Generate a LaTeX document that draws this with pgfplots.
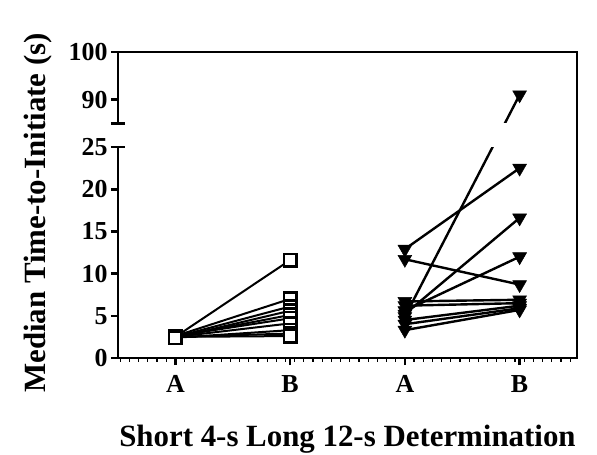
\documentclass[border=0pt]{standalone}
\usepackage{pgfplots}
\pgfplotsset{compat=1.18}
\usepackage{fontspec}
\setmainfont{Liberation Serif}

% broken y axis: 0-25 below, 85-100 above (smaller scale)
\pgfplotsset{
  brokeny/.style={
    y coord trafo/.code={\pgfmathparse{(##1<=25) ? ##1 : ((##1>=85) ? 27.81+(##1-85)*0.5633 : 26.4)}},
  },
}

\begin{document}
\begin{tikzpicture}
\path[use as bounding box] (-118bp,-97bp) rectangle (479bp,358bp);
\begin{axis}[
    brokeny,
    scale only axis,
    width=459bp, height=306bp,
    xmin=0.5, xmax=4.5,
    ymin=0, ymax=100,
    clip=false,
    axis lines*=left,
    axis line style={draw=none},
    tick align=outside,
    xtick={1,2,3,4},
    xticklabels={A,B,A,B},
    minor xtick={0.52,0.60,...,4.5},
    ytick={0,5,10,15,20,25,90,100},
    yticklabels={0,5,10,15,20,25,90,100},
    major tick length=7bp,
    minor tick length=3.5bp,
    every major tick/.append style={line width=2.6bp, black},
    every minor tick/.append style={line width=1.2bp, black},
    tick label style={font=\bfseries\fontsize{26}{26}\selectfont},
    xticklabel style={yshift=-7bp},
    xlabel={Short 4-s Long 12-s Determination},
    ylabel={Median Time-to-Initiate (s)},
    label style={font=\bfseries\fontsize{31}{31}\selectfont},
    xlabel style={yshift=-26bp},
    ylabel style={yshift=10bp, xshift=-8bp},
]
% Short 4-s: subject lines
\pgfplotsset{every axis plot/.append style={black, line width=2bp}}
\addplot[mark=none] coordinates {(1,2.5)(2,11.6)};
\addplot[mark=none] coordinates {(1,2.6)(2,7.0)};
\addplot[mark=none] coordinates {(1,2.5)(2,6.1)};
\addplot[mark=none] coordinates {(1,2.4)(2,5.6)};
\addplot[mark=none] coordinates {(1,2.5)(2,5.1)};
\addplot[mark=none] coordinates {(1,2.6)(2,4.7)};
\addplot[mark=none] coordinates {(1,2.5)(2,4.1)};
\addplot[mark=none] coordinates {(1,2.4)(2,3.3)};
\addplot[mark=none] coordinates {(1,2.5)(2,2.9)};
\addplot[mark=none] coordinates {(1,2.5)(2,2.6)};
% Long 12-s: subject lines
\addplot[mark=none, line width=2.4bp] coordinates {(3,12.9)(4,22.5)};
\addplot[mark=none, line width=2.4bp] coordinates {(3,11.7)(4,8.7)};
\addplot[mark=none, line width=2.4bp] coordinates {(3,4.9)(4,91)};
\addplot[mark=none, line width=2.4bp] coordinates {(3,5.2)(4,16.6)};
\addplot[mark=none, line width=2.4bp] coordinates {(3,5.6)(4,12.0)};
\addplot[mark=none, line width=2.4bp] coordinates {(3,6.7)(4,6.9)};
\addplot[mark=none, line width=2.4bp] coordinates {(3,6.2)(4,6.5)};
\addplot[mark=none, line width=2.4bp] coordinates {(3,4.5)(4,6.2)};
\addplot[mark=none, line width=2.4bp] coordinates {(3,4.0)(4,5.9)};
\addplot[mark=none, line width=2.4bp] coordinates {(3,3.3)(4,5.7)};
% gap of the broken axis
\fill[white] (axis cs:0.5,25) rectangle (axis cs:4.5,85);
% markers
\addplot[only marks, mark=square*, mark size=6.2bp,
  mark options={fill=white, draw=black, line width=2.6bp}]
  coordinates {(1,2.5)(1,2.6)(1,2.4)
    (2,11.6)(2,7.0)(2,6.1)(2,5.6)(2,5.1)(2,4.7)(2,4.1)(2,3.3)(2,2.9)(2,2.6)};
\addplot[only marks, mark=triangle*, mark size=8bp,
  mark options={rotate=180, fill=black, draw=black, line width=0.5bp}]
  coordinates {(3,12.9)(3,11.7)(3,4.9)(3,5.2)(3,5.6)(3,6.7)(3,6.2)(3,4.5)(3,4.0)(3,3.3)
    (4,22.5)(4,8.7)(4,91)(4,16.6)(4,12.0)(4,6.9)(4,6.5)(4,6.2)(4,5.9)(4,5.7)};
% frame with broken left axis
\draw[line width=2.6bp, line join=miter]
  (axis cs:0.5,85) -- (axis cs:0.5,100) -- (axis cs:4.5,100)
  -- (axis cs:4.5,0) -- (axis cs:0.5,0) -- (axis cs:0.5,25);
\draw[line width=2.6bp] ([xshift=-7bp]axis cs:0.5,25) -- ([xshift=7bp]axis cs:0.5,25);
\draw[line width=2.6bp] ([xshift=-7bp]axis cs:0.5,85) -- ([xshift=7bp]axis cs:0.5,85);
\end{axis}
\end{tikzpicture}
\end{document}
